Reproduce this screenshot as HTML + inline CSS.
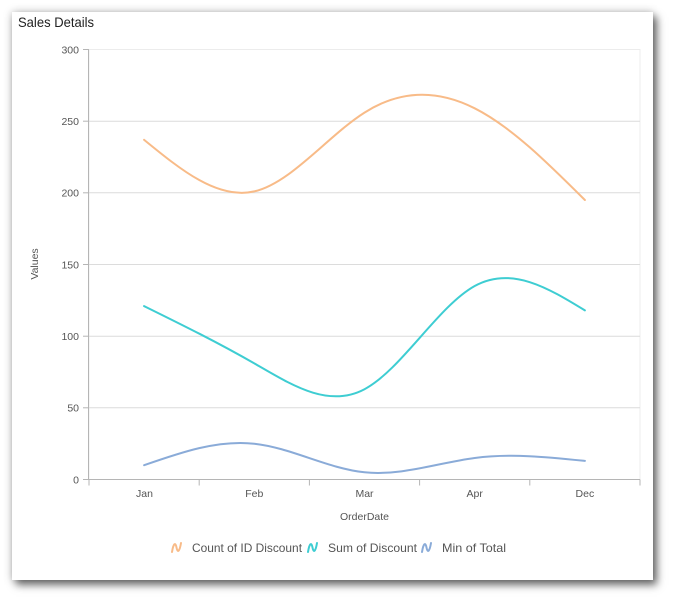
<!DOCTYPE html>
<html><head><meta charset="utf-8"><style>
html,body{margin:0;padding:0;background:#fff;width:673px;height:600px;overflow:hidden}
.card{position:absolute;left:12px;top:12px;width:641px;height:568px;background:#fff;box-shadow:4px 5px 8px rgba(0,0,0,0.55),0 0 8px rgba(0,0,0,0.25)}
svg{position:absolute;left:0;top:0}
text{font-family:"Liberation Sans",sans-serif}
</style></head><body>
<div class="card"></div>
<svg width="673" height="600" viewBox="0 0 673 600" xmlns="http://www.w3.org/2000/svg">
<text x="18" y="27" font-size="14" fill="#222" textLength="76" lengthAdjust="spacingAndGlyphs">Sales Details</text>
<!-- plot border -->
<rect x="89" y="49.5" width="551" height="430" fill="none" stroke="#ececec" stroke-width="1"/>
<!-- gridlines -->
<g stroke="#dcdcdc" stroke-width="1">
<line x1="89" y1="121.2" x2="640" y2="121.2"/>
<line x1="89" y1="192.8" x2="640" y2="192.8"/>
<line x1="89" y1="264.5" x2="640" y2="264.5"/>
<line x1="89" y1="336.2" x2="640" y2="336.2"/>
<line x1="89" y1="407.8" x2="640" y2="407.8"/>
</g>
<!-- y ticks -->
<g stroke="#b5b5b5" stroke-width="1">
<line x1="83" y1="49.5" x2="89" y2="49.5"/>
<line x1="83" y1="121.2" x2="89" y2="121.2"/>
<line x1="83" y1="192.8" x2="89" y2="192.8"/>
<line x1="83" y1="264.5" x2="89" y2="264.5"/>
<line x1="83" y1="336.2" x2="89" y2="336.2"/>
<line x1="83" y1="407.8" x2="89" y2="407.8"/>
<line x1="83" y1="479.5" x2="89" y2="479.5"/>
<line x1="88.5" y1="49.5" x2="88.5" y2="479.5"/>
<line x1="89" y1="479.5" x2="640" y2="479.5"/>
<line x1="89" y1="479.5" x2="89" y2="485.5"/>
<line x1="199.2" y1="479.5" x2="199.2" y2="485.5"/>
<line x1="309.4" y1="479.5" x2="309.4" y2="485.5"/>
<line x1="419.6" y1="479.5" x2="419.6" y2="485.5"/>
<line x1="529.8" y1="479.5" x2="529.8" y2="485.5"/>
<line x1="640" y1="479.5" x2="640" y2="485.5"/>
</g>
<g font-size="10.5" fill="#555" text-anchor="end">
<text x="79" y="53.5">300</text>
<text x="79" y="125">250</text>
<text x="79" y="196.7">200</text>
<text x="79" y="268.4">150</text>
<text x="79" y="340">100</text>
<text x="79" y="411.7">50</text>
<text x="79" y="483.4">0</text>
</g>
<g font-size="10.5" fill="#555" text-anchor="middle">
<text x="144.5" y="497">Jan</text>
<text x="254.3" y="497">Feb</text>
<text x="364.5" y="497">Mar</text>
<text x="474.7" y="497">Apr</text>
<text x="584.9" y="497">Dec</text>
<text x="364.5" y="520">OrderDate</text>
<text transform="translate(38,264) rotate(-90)">Values</text>
</g>
<!-- series -->
<g fill="none" stroke-width="2" stroke-linecap="round">
<path stroke="#F8BB88" d="M144.1,139.8 C180.8,169.8 217.6,199.9 254.3,191.4 C291.0,182.9 327.8,135.9 364.5,112.6 C401.2,89.3 438.0,89.7 474.7,108.3 C511.4,126.8 548.2,163.4 584.9,200.0"/>
<path stroke="#3ECDD2" d="M144.1,306.1 C180.8,324.2 217.6,342.3 254.3,363.4 C291.0,384.5 327.8,408.7 364.5,389.2 C401.2,369.7 438.0,306.4 474.7,286.0 C511.4,265.6 548.2,288.0 584.9,310.4"/>
<path stroke="#8AABD8" d="M144.1,465.2 C180.8,452.4 217.6,439.6 254.3,443.7 C291.0,447.7 327.8,468.6 364.5,472.3 C401.2,476.1 438.0,462.8 474.7,458.0 C511.4,453.2 548.2,457.1 584.9,460.9"/>
</g>
<!-- legend -->
<g fill="none" stroke-width="2" stroke-linecap="round">
<path stroke="#F8BB88" d="M172,552 C173.5,543 175.5,542 176.5,547.5 C177.5,553 179.5,552 181,543"/>
<path stroke="#3ECDD2" d="M308,552 C309.5,543 311.5,542 312.5,547.5 C313.5,553 315.5,552 317,543"/>
<path stroke="#8AABD8" d="M422,552 C423.5,543 425.5,542 426.5,547.5 C427.5,553 429.5,552 431,543"/>
</g>
<g font-size="12" fill="#555">
<text x="192" y="552" textLength="110" lengthAdjust="spacingAndGlyphs">Count of ID Discount</text>
<text x="328" y="552" textLength="89" lengthAdjust="spacingAndGlyphs">Sum of Discount</text>
<text x="442" y="552" textLength="64" lengthAdjust="spacingAndGlyphs">Min of Total</text>
</g>
</svg>
</body></html>
